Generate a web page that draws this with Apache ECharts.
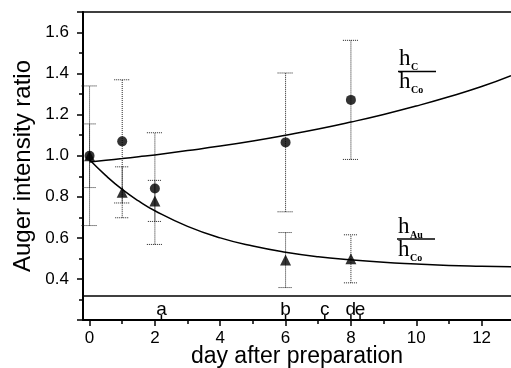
<!DOCTYPE html>
<html>
<head>
<meta charset="utf-8">
<script src="https://cdn.jsdelivr.net/npm/echarts@6/dist/echarts.min.js"></script>
<style>
  html, body { margin: 0; padding: 0; background: #fff; }
  #chart { width: 511px; height: 368px; }
</style>
</head>
<body>
<div id="chart"></div>
<script>
// measured points (day, ratio) and their error half-widths
const days = [0, 1, 2, 6, 8];
const carbonRatio = [1.0, 1.07, 0.84, 1.065, 1.272];
const carbonErr = [0.34, 0.30, 0.272, 0.338, 0.29];
const goldRatio = [1.0, 0.822, 0.78, 0.492, 0.498];
const goldErr = [0.155, 0.124, 0.10, 0.134, 0.117];

// fitted curves
const fitDays = [0, 0.5, 1, 1.5, 2, 3, 4, 5, 6, 7, 8, 9, 10, 11, 12, 12.9];
const carbonFit = [0.97, 0.978, 0.986, 0.995, 1.004, 1.025, 1.047, 1.072, 1.10, 1.13, 1.164, 1.201, 1.242, 1.287, 1.337, 1.39];
const goldFit = [0.98, 0.903, 0.836, 0.78, 0.732, 0.656, 0.60, 0.56, 0.53, 0.508, 0.493, 0.481, 0.473, 0.466, 0.462, 0.459];

// sample markers along the bottom strip
const sampleTags = ['a', 'b', 'c', 'd', 'e'];
const sampleDays = [2.2, 6, 7.2, 8, 8.28];
const stripLine = 0.32;

const xTicks = [0, 2, 4, 6, 8, 10, 12];
const xMinorTicks = [1, 3, 5, 7, 9, 11];
const yLabels = [0.4, 0.6, 0.8, 1.0, 1.2, 1.4, 1.6];

const sans = '"Liberation Sans", Arial, sans-serif';
const serif = '"Liberation Serif", "Times New Roman", serif';

function errorBars(vals, errs, capHalf) {
  return {
    type: 'custom',
    z: 1,
    silent: true,
    data: days.map((d, i) => [d, vals[i] - errs[i], vals[i] + errs[i]]),
    renderItem: function (params, api) {
      const lo = api.coord([api.value(0), api.value(1)]);
      const hi = api.coord([api.value(0), api.value(2)]);
      const st = { stroke: '#222', lineWidth: 1, lineDash: [1, 1] };
      return {
        type: 'group',
        children: [
          { type: 'line', shape: { x1: lo[0], y1: lo[1], x2: hi[0], y2: hi[1] }, style: st },
          { type: 'line', shape: { x1: lo[0] - capHalf, y1: lo[1], x2: lo[0] + capHalf, y2: lo[1] }, style: st },
          { type: 'line', shape: { x1: hi[0] - capHalf, y1: hi[1], x2: hi[0] + capHalf, y2: hi[1] }, style: st }
        ]
      };
    }
  };
}

function fraction(x, barY, sub) {
  return [
    { type: 'text', x: x, y: barY - 1, style: { text: 'h', font: '23px ' + serif, fill: '#000', verticalAlign: 'bottom' } },
    { type: 'text', x: x + 12, y: barY + 1, style: { text: sub, font: 'bold 10px ' + serif, fill: '#000', verticalAlign: 'bottom' } },
    { type: 'line', shape: { x1: x - 1, y1: barY, x2: x + 37, y2: barY }, style: { stroke: '#000', lineWidth: 1.5 } },
    { type: 'text', x: x, y: barY + 22, style: { text: 'h', font: '23px ' + serif, fill: '#000', verticalAlign: 'bottom' } },
    { type: 'text', x: x + 12, y: barY + 24, style: { text: 'Co', font: 'bold 10px ' + serif, fill: '#000', verticalAlign: 'bottom' } }
  ];
}

const chart = echarts.init(document.getElementById('chart'));
const option = {
  animation: false,
  backgroundColor: '#fff',
  grid: { left: 83, right: 0, top: 12, bottom: 48, outerBoundsMode: 'none', containLabel: false },
  xAxis: [
    {
      type: 'value', min: -0.2, max: 12.9, position: 'bottom',
      name: 'day after preparation', nameLocation: 'middle', nameGap: 25, nameMoveOverlap: false,
      nameTextStyle: { fontFamily: sans, fontSize: 23, color: '#000' },
      axisLine: { show: true, onZero: false, lineStyle: { color: '#000', width: 2 } },
      axisTick: { show: true, customValues: xTicks, length: 6, lineStyle: { color: '#000', width: 1.5 } },
      axisLabel: { customValues: xTicks, fontFamily: sans, fontSize: 17, color: '#000', margin: 10 },
      splitLine: { show: false }
    },
    {
      type: 'value', min: -0.2, max: 12.9, position: 'bottom',
      axisLine: { show: false },
      axisTick: { show: true, customValues: xMinorTicks, length: 4, lineStyle: { color: '#000', width: 1.5 } },
      axisLabel: { show: false },
      splitLine: { show: false }
    },
    {
      type: 'value', min: -0.2, max: 12.9, position: 'top',
      axisLine: { show: true, onZero: false, lineStyle: { color: '#000', width: 1.5 } },
      axisTick: { show: false }, axisLabel: { show: false }, splitLine: { show: false }
    }
  ],
  yAxis: {
    type: 'value', min: 0.2, max: 1.7, interval: 0.2, position: 'left',
    name: 'Auger intensity ratio', nameLocation: 'middle', nameGap: 48, nameRotate: 90, nameMoveOverlap: false,
    nameTextStyle: { fontFamily: sans, fontSize: 24, color: '#000' },
    axisLine: { show: true, onZero: false, lineStyle: { color: '#000', width: 2 } },
    axisTick: { show: true, length: 6, lineStyle: { color: '#000', width: 1.5 } },
    minorTick: { show: true, splitNumber: 2, length: 4, lineStyle: { color: '#000', width: 1.5 } },
    axisLabel: {
      fontFamily: sans, fontSize: 17, color: '#000', margin: 14,
      formatter: v => yLabels.some(l => Math.abs(l - v) < 1e-6) ? v.toFixed(1) : ''
    },
    splitLine: { show: false },
    minorSplitLine: { show: false }
  },
  graphic: fraction(399, 71.5, 'C').concat(fraction(398, 239, 'Au')),
  series: [
    errorBars(carbonRatio, carbonErr, 8),
    errorBars(goldRatio, goldErr, 7),
    {
      type: 'line', smooth: true, symbol: 'none', z: 2,
      data: fitDays.map((d, i) => [d, carbonFit[i]]),
      lineStyle: { color: '#000', width: 1.5 },
      markLine: {
        silent: true, symbol: 'none', label: { show: false },
        lineStyle: { color: '#000', width: 1.5, type: 'solid' },
        data: [{ yAxis: stripLine }]
      }
    },
    {
      type: 'line', smooth: true, symbol: 'none', z: 2,
      data: fitDays.map((d, i) => [d, goldFit[i]]),
      lineStyle: { color: '#000', width: 1.5 }
    },
    {
      type: 'scatter', symbol: 'circle', symbolSize: 10, z: 3,
      itemStyle: { color: '#000' },
      data: days.map((d, i) => [d, carbonRatio[i]])
    },
    {
      type: 'scatter', symbol: 'triangle', symbolSize: 11, z: 3,
      itemStyle: { color: '#000' },
      data: days.map((d, i) => [d, goldRatio[i]])
    },
    {
      type: 'custom', z: 3, silent: true,
      data: sampleDays.map((d, i) => [d, 0.2]),
      renderItem: function (params, api) {
        const p = api.coord([api.value(0), api.value(1)]);
        return {
          type: 'group',
          children: [
            { type: 'line', shape: { x1: p[0], y1: p[1], x2: p[0], y2: p[1] - 5 }, style: { stroke: '#000', lineWidth: 1.5 } },
            { type: 'text', x: p[0], y: p[1] - 1, style: { text: sampleTags[params.dataIndex], font: '19px ' + sans, fill: '#000', align: 'center', verticalAlign: 'bottom' } }
          ]
        };
      }
    }
  ]
};
chart.setOption(option);
</script>
</body>
</html>
